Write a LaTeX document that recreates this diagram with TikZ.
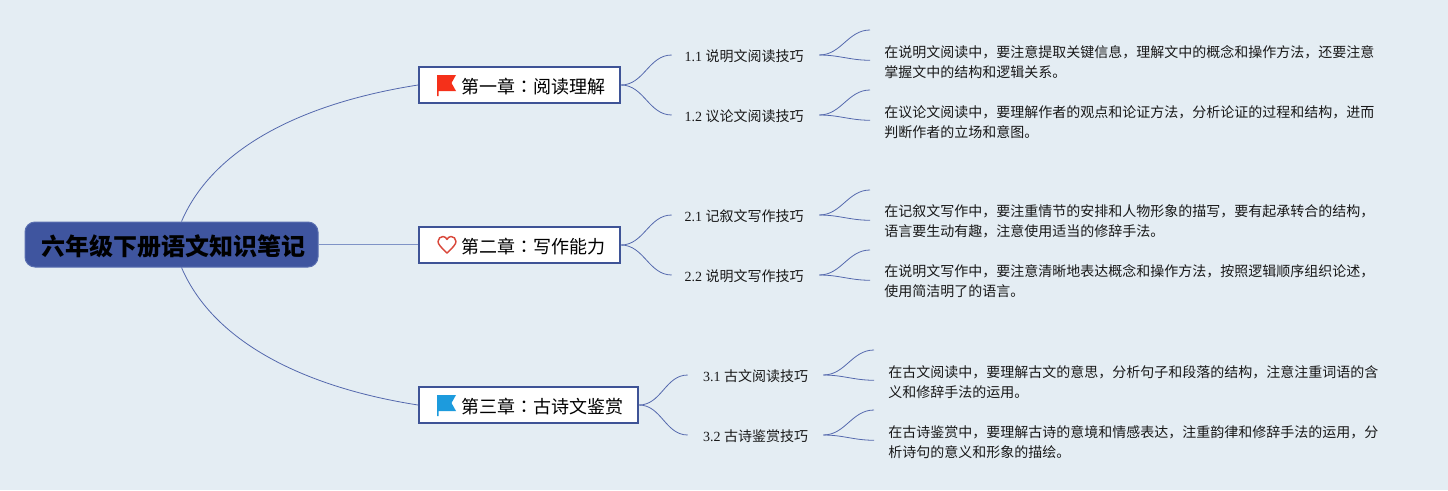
\documentclass[tikz,border=0pt]{standalone}
\usepackage{fontspec}
\setmainfont{Liberation Serif}
\newfontfamily\cjk{Noto Sans CJK SC}
\newfontfamily\cjkjp{Noto Sans CJK JP}
\definecolor{bgc}{HTML}{E4EDF3}
\definecolor{rootc}{HTML}{3F559F}
\definecolor{rootb}{HTML}{5A6FB0}
\definecolor{chapb}{HTML}{3E5396}
\definecolor{linec}{HTML}{5468AD}
\definecolor{trunkc}{HTML}{7F93C6}
\definecolor{flagr}{HTML}{F5301A}
\definecolor{flagb}{HTML}{1D9BDD}
\definecolor{heartc}{HTML}{D9483B}
\newcommand{\cc}{{\cjkjp ：}}
\newcommand{\dn}[2]{\raisebox{-#1}[\height][\depth]{#2}}
\newcommand{\ts}{\rule{0pt}{11pt}}
\tikzset{
  rootbox/.style={draw=rootb,fill=rootc,line width=0.75pt,rounded corners=7.5pt,minimum width=219.75pt,minimum height=33.75pt,inner sep=0pt,font=\cjk\bfseries\fontsize{18pt}{22pt}\selectfont,text=black},
  chapbox/.style={draw=chapb,fill=white,line width=1.5pt,minimum height=27pt,inner sep=0pt,font=\cjk\fontsize{13.5pt}{17pt}\selectfont,text=black},
  subbox/.style={minimum height=18pt,inner sep=0pt,font=\fontsize{10.5pt}{13pt}\selectfont,text=black!90},
  detailbox/.style={anchor=north west,align=left,inner xsep=10.5pt,inner ysep=0pt,minimum height=45pt,font=\cjk\fontsize{10.5pt}{15pt}\selectfont,text=black!90},
  link/.style={draw=linec,line width=0.6pt},
  trunk/.style={draw=trunkc,line width=1.2pt},
  branch/.style={link,out=0,in=180}
}
\begin{document}
\begin{tikzpicture}[x=0.75pt,y=-0.75pt]
\useasboundingbox (0,0) rectangle (1448,490);
\fill[bgc] (0,0) rectangle (1448,490);

\node[rootbox] (root) at (171.5,244.5) {\dn{1.6pt}{\hspace*{3pt}六年级下册语文知识笔记}};

\node[chapbox,minimum width=150.75pt] (ch1) at (519.5,85) {\dn{0.9pt}{\hspace*{20.25pt}第一章\cc 阅读理解}};
\node[chapbox,minimum width=150.75pt] (ch2) at (519.5,245) {\dn{0.9pt}{\hspace*{20.25pt}第二章\cc 写作能力}};
\node[chapbox,minimum width=164.25pt] (ch3) at (528.5,405) {\dn{0.9pt}{\hspace*{20.25pt}第三章\cc 古诗文鉴赏}};

\node[subbox,minimum width=110.25pt] (s11) at (745.5,55) {\dn{0.75pt}{1.1 {\cjk 说明文阅读技巧}\hspace*{2pt}}};
\node[subbox,minimum width=110.25pt] (s12) at (745.5,115) {\dn{0.75pt}{1.2 {\cjk 议论文阅读技巧}\hspace*{2pt}}};
\node[subbox,minimum width=110.25pt] (s21) at (745.5,215) {\dn{0.75pt}{2.1 {\cjk 记叙文写作技巧}\hspace*{2pt}}};
\node[subbox,minimum width=110.25pt] (s22) at (745.5,275) {\dn{0.75pt}{2.2 {\cjk 说明文写作技巧}\hspace*{2pt}}};
\node[subbox,minimum width=101.25pt] (s31) at (755.5,375) {\dn{0.75pt}{3.1 {\cjk 古文阅读技巧}}};
\node[subbox,minimum width=101.25pt] (s32) at (755.5,435) {\dn{0.75pt}{3.2 {\cjk 古诗鉴赏技巧}}};

\node[detailbox] (d11) at (870,30) {\ts 在说明文阅读中，要注意提取关键信息，理解文中的概念和操作方法，还要注意\\掌握文中的结构和逻辑关系。};
\node[detailbox] (d12) at (870,90) {\ts 在议论文阅读中，要理解作者的观点和论证方法，分析论证的过程和结构，进而\\判断作者的立场和意图。};
\node[detailbox] (d21) at (870,190) {\ts 在记叙文写作中，要注重情节的安排和人物形象的描写，要有起承转合的结构，\\语言要生动有趣，注意使用适当的修辞手法。};
\node[detailbox] (d22) at (870,250) {\ts 在说明文写作中，要注意清晰地表达概念和操作方法，按照逻辑顺序组织论述，\\使用简洁明了的语言。};
\node[detailbox] (d31) at (874,350) {\ts 在古文阅读中，要理解古文的意思，分析句子和段落的结构，注意注重词语的含\\义和修辞手法的运用。};
\node[detailbox] (d32) at (874,410) {\ts 在古诗鉴赏中，要理解古诗的意境和情感表达，注重韵律和修辞手法的运用，分\\析诗句的意义和形象的描绘。};

% root to chapters
\draw[link] ([xshift=7.5pt]root.north) .. controls +(33,-77) and +(-109,17) .. (ch1.west);
\draw[trunk] (root.east) -- (root.east -| ch2.west);
\draw[link] ([xshift=7.5pt]root.south) .. controls +(33,77) and +(-109,-17) .. (ch3.west);

% chapters to subtopics
\foreach \c/\s in {ch1/s11,ch1/s12,ch2/s21,ch2/s22,ch3/s31,ch3/s32}
  \draw[link] (\c.east) to[branch] (\s.west);

% subtopics to details
\foreach \s/\d in {s11/d11,s12/d12,s21/d21,s22/d22,s31/d31,s32/d32}{
  \draw[link] (\s.east) to[branch] (\d.north west);
  \draw[link] (\s.east) to[branch] (\d.west);
}

% icons
\fill[flagr] (437,75) -- (456,75) -- (451.5,83) -- (456,91) -- (438.5,91) -- (438.5,96) -- (437,96) -- cycle;
\fill[flagb] (437,395) -- (456,395) -- (451.5,403) -- (456,411) -- (438.5,411) -- (438.5,416) -- (437,416) -- cycle;
\draw[heartc,line width=1.1pt,line join=round] (447,253)
  .. controls (441,247.5) and (438,244) .. (438,241.5)
  .. controls (438,238.5) and (440.5,236.5) .. (443,236.5)
  .. controls (445,236.5) and (446.3,238) .. (447,239.5)
  .. controls (447.7,238) and (449,236.5) .. (451,236.5)
  .. controls (453.5,236.5) and (456,238.5) .. (456,241.5)
  .. controls (456,244) and (453,247.5) .. (447,253) -- cycle;
\end{tikzpicture}
\end{document}
